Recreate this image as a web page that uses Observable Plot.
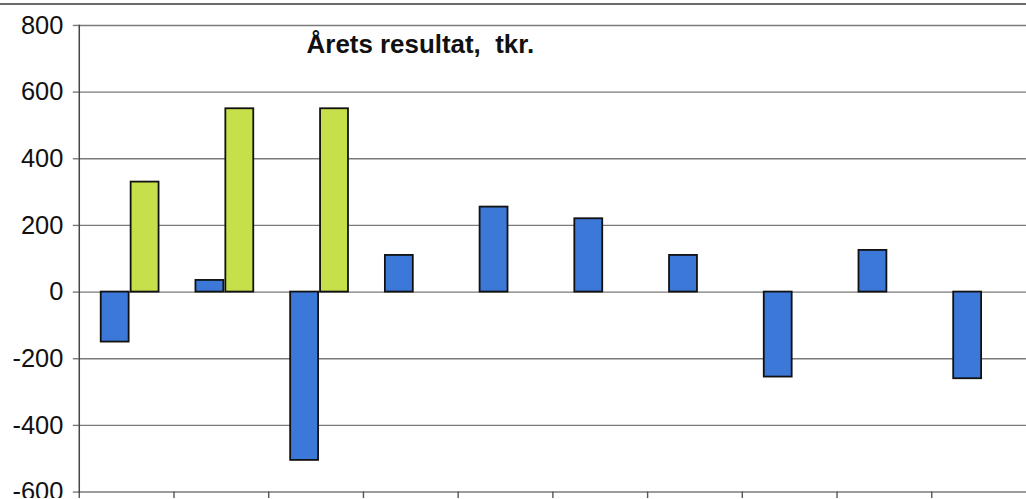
<!DOCTYPE html>
<html>
<head>
<meta charset="utf-8">
<script src="https://cdn.jsdelivr.net/npm/d3@7"></script>
<script src="https://cdn.jsdelivr.net/npm/@observablehq/plot@0.6"></script>
<style>
  body { margin: 0; background: #fff; }
  #wrap { margin-top: 3px; border-top: 2px solid #6a6a6a; width: 1026px; overflow: hidden; }
  svg { display: block; }
</style>
</head>
<body>
<div id="wrap"></div>
<script>
const title = "Årets resultat,\u00a0 tkr.";
const groups = ["1", "2", "3", "4", "5", "6", "7", "8", "9", "10"];
const seriesBlue = [-150, 35, -505, 110, 255, 220, 110, -255, 125, -260];
const seriesGreen = [330, 550, 550, null, null, null, null, null, null, null];
const yTicks = [-600, -400, -200, 0, 200, 400, 600, 800];

const blueData = groups.map((g, i) => ({group: g, value: seriesBlue[i]}));
const greenData = groups.map((g, i) => ({group: g, value: seriesGreen[i]})).filter(d => d.value != null);

const chart = Plot.plot({
  width: 1029,
  height: 494,
  marginLeft: 79,
  marginRight: 0,
  marginTop: 20,
  marginBottom: 6,
  style: {fontFamily: "'Liberation Sans', Arial, sans-serif", background: "#fff"},
  x: {domain: groups, padding: 0, round: false, axis: null},
  y: {domain: [-600, 800], label: null, axis: null},
  marks: [
    Plot.axisY(yTicks, {tickSize: 6, tickPadding: 10, fontSize: 25.5, fill: "#111", stroke: "#7a7a7a", strokeWidth: 1.4, label: null, tickFormat: d => String(d)}),
    Plot.gridY(yTicks, {stroke: "#7a7a7a", strokeOpacity: 1, strokeWidth: 1.4}),
    Plot.axisX(groups, {tickSize: 7, dx: -47.5, tickFormat: () => "", label: null, stroke: "#555", strokeWidth: 1.4}),
    Plot.frame({anchor: "left", stroke: "#444", strokeWidth: 1.5}),
    Plot.barY(blueData, {x: "group", y: "value", fill: "#3b78d8", stroke: "#111", strokeWidth: 1.8, insetLeft: 22, insetRight: 45}),
    Plot.barY(greenData, {x: "group", y: "value", fill: "#c6e04c", stroke: "#111", strokeWidth: 1.8, insetLeft: 52, insetRight: 15}),
    Plot.text([title], {frameAnchor: "top-left", dx: 228, dy: 9, textAnchor: "start", fontSize: 26, fontWeight: "bold", fill: "#111", style: {letterSpacing: "0.9px"}})
  ]
});
document.getElementById("wrap").appendChild(chart);
</script>
</body>
</html>
